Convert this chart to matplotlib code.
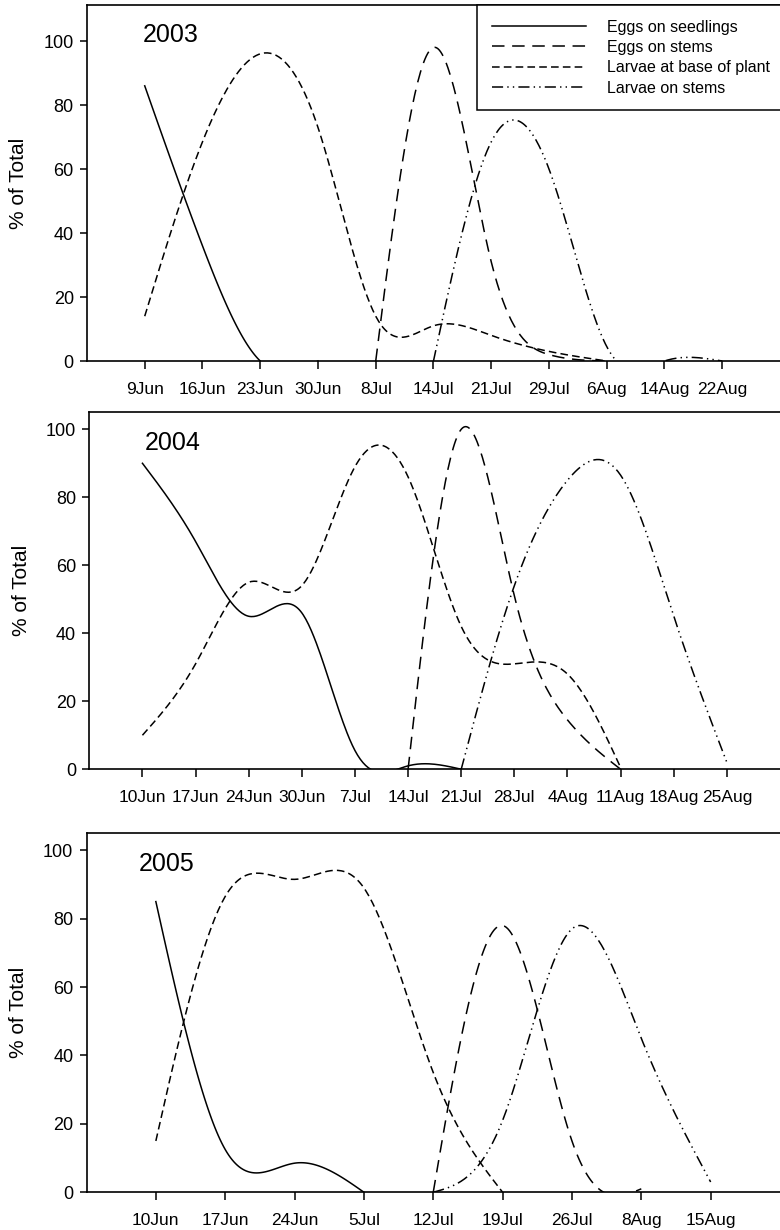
import numpy as np
import matplotlib
matplotlib.use("Agg")
import matplotlib.pyplot as plt

plt.rcParams['font.family'] = ['Liberation Sans', 'DejaVu Sans']
plt.rcParams['lines.scale_dashes'] = False

nan = np.nan

# ---- data ----
dates_2003 = ['9Jun', '16Jun', '23Jun', '30Jun', '8Jul', '14Jul', '21Jul',
              '29Jul', '6Aug', '14Aug', '22Aug']
eggs_seedlings_2003 = [86, 36, 0, 0, nan, nan, nan, nan, nan, nan, nan]
eggs_stems_2003 = [nan, nan, nan, nan, 0, 98, 31, 2, 0, nan, nan]
larvae_base_2003 = [14, 68.5, 96, 73, 14, 11, 8, 3, 0, nan, nan]
larvae_stems_2003 = [nan, nan, nan, nan, nan, 0, 68.5, 60, 4.5, 0, 0]

dates_2004 = ['10Jun', '17Jun', '24Jun', '30Jun', '7Jul', '14Jul', '21Jul',
              '28Jul', '4Aug', '11Aug', '18Aug', '25Aug']
eggs_seedlings_2004 = [90, 67, 45, 46, 5.5, 1, 0, nan, nan, nan, nan, nan]
eggs_stems_2004 = [nan, nan, nan, nan, nan, 0, 100, 51, 14.5, 0, nan, nan]
larvae_base_2004 = [10, 31, 55, 54, 89, 86, 42, 31, 28, 0.5, nan, nan]
larvae_stems_2004 = [nan, nan, nan, nan, nan, nan, 0, 54, 85, 86.5, 45, 2]

dates_2005 = ['10Jun', '17Jun', '24Jun', '5Jul', '12Jul', '19Jul', '26Jul',
              '8Aug', '15Aug']
eggs_seedlings_2005 = [85, 12.5, 8.5, 0, nan, nan, nan, nan, nan]
eggs_stems_2005 = [nan, nan, nan, nan, 0, 78, 15, 1, nan]
larvae_base_2005 = [15, 86.5, 91.5, 89, 35, 0, nan, nan, nan]
larvae_stems_2005 = [nan, nan, nan, nan, 0, 21, 77, 45, 3]

series_names = ['Eggs on seedlings', 'Eggs on stems',
                'Larvae at base of plant', 'Larvae on stems']
styles = ['-', (0, (9, 5.5)), (0, (5.5, 3)), (0, (8, 3, 1, 3, 1, 3))]


def smooth(vals, n=40):
    """natural cubic spline through the defined points (like the original)"""
    y = np.asarray(vals, float)
    x = np.arange(1, len(y) + 1, dtype=float)
    ok = ~np.isnan(y)
    x, y = x[ok], y[ok]
    k = len(x)
    if k < 3:
        return x, y
    h = np.diff(x)
    A = np.zeros((k, k))
    r = np.zeros(k)
    A[0, 0] = A[-1, -1] = 1
    for i in range(1, k - 1):
        A[i, i - 1] = h[i - 1]
        A[i, i] = 2 * (h[i - 1] + h[i])
        A[i, i + 1] = h[i]
        r[i] = 6 * ((y[i + 1] - y[i]) / h[i] - (y[i] - y[i - 1]) / h[i - 1])
    M = np.linalg.solve(A, r)
    xs = np.linspace(x[0], x[-1], (k - 1) * n + 1)
    j = np.clip(np.searchsorted(x, xs, side='right') - 1, 0, k - 2)
    t1 = x[j + 1] - xs
    t0 = xs - x[j]
    hj = h[j]
    ys = (M[j] * t1 ** 3 / (6 * hj) + M[j + 1] * t0 ** 3 / (6 * hj)
          + (y[j] / hj - M[j] * hj / 6) * t1 + (y[j + 1] / hj - M[j + 1] * hj / 6) * t0)
    return xs, ys


panels = [
    ('2003', dates_2003, [eggs_seedlings_2003, eggs_stems_2003, larvae_base_2003, larvae_stems_2003],
     [0.1115, 0.7065, 0.8885, 0.2894], 111.25, 0.08),
    ('2004', dates_2004, [eggs_seedlings_2004, eggs_stems_2004, larvae_base_2004, larvae_stems_2004],
     [0.1145, 0.3746, 0.8855, 0.2902], 105, 0.08),
    ('2005', dates_2005, [eggs_seedlings_2005, eggs_stems_2005, larvae_base_2005, larvae_stems_2005],
     [0.1109, 0.0307, 0.8891, 0.2919], 105, 0.075),
]

fig = plt.figure(figsize=(7.8, 12.3), dpi=100)

for k, (year, dates, data, rect, ytop, tx) in enumerate(panels):
    ax = fig.add_axes(rect)
    for vals, name, ls in zip(data, series_names, styles):
        xs, ys = smooth(vals)
        ax.plot(xs, ys, color='black', lw=1.1, linestyle=ls, label=name)

    ax.set_xlim(0, len(dates) + 1)
    ax.set_ylim(0, ytop)
    ax.set_xticks(np.arange(1, len(dates) + 1))
    ax.set_xticklabels(dates)
    ax.set_yticks([0, 20, 40, 60, 80, 100])
    ax.tick_params(axis='x', direction='out', length=5.5, width=1.1, labelsize=12.5, pad=9.5)
    ax.tick_params(axis='y', direction='out', length=5, width=1.1, labelsize=13, pad=4.5)
    ax.spines['right'].set_visible(False)
    for s in ['left', 'bottom', 'top']:
        ax.spines[s].set_linewidth(1.2)

    ax.set_ylabel('% of Total', fontsize=15)
    ax.yaxis.set_label_coords(-0.085, 0.5)
    ax.text(tx, 0.895, year, transform=ax.transAxes, fontsize=18, va='baseline')

    if k == 0:
        leg = ax.legend(loc='upper left', bbox_to_anchor=(0.563, 0.0, 0.6, 1.0),
                        mode='expand', fontsize=11.5, handlelength=5.9,
                        handletextpad=1.3, borderpad=0.92, labelspacing=0.33,
                        fancybox=False, framealpha=1, borderaxespad=0)
        leg.get_frame().set_edgecolor('black')
        leg.get_frame().set_linewidth(1.1)

fig.savefig('out.png', dpi=100)
